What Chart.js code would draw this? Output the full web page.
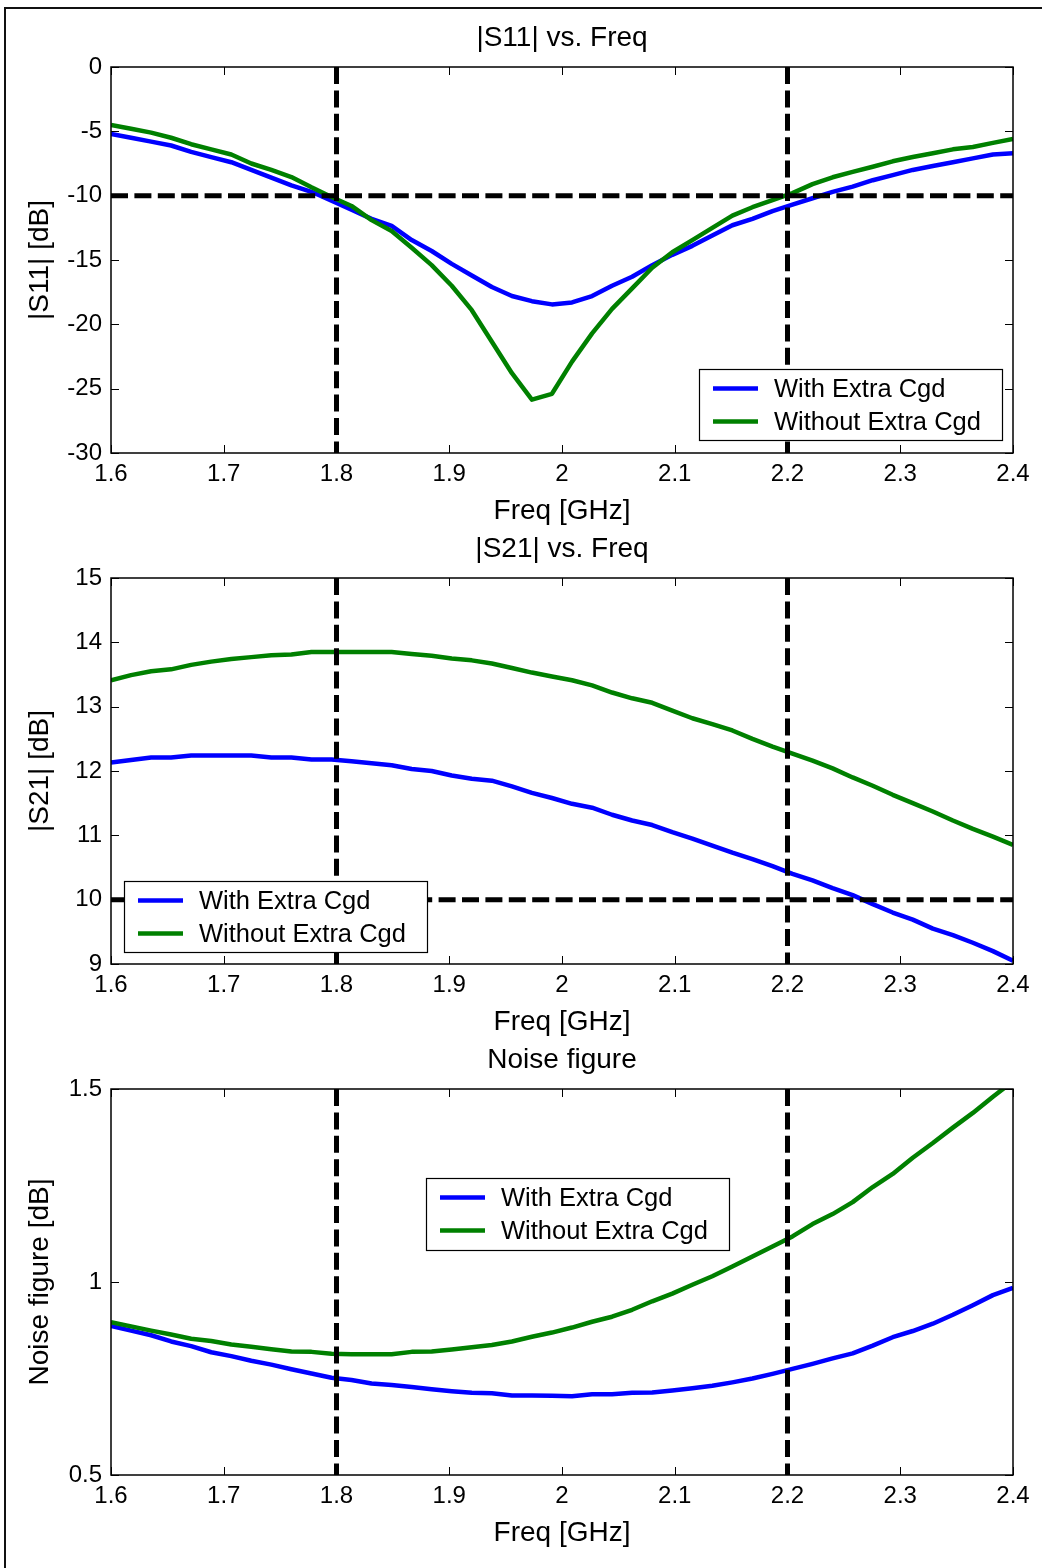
<!DOCTYPE html>
<html>
<head>
<meta charset="utf-8">
<title>|S11|, |S21| and Noise figure vs. Freq</title>
<script src="https://cdn.jsdelivr.net/npm/chart.js@4.4.1/dist/chart.umd.min.js"></script>
<style>
  html, body { margin: 0; padding: 0; background: #fff; overflow: hidden; }
  #page { position: relative; width: 1042px; height: 1568px; overflow: hidden; }
  #frame { position: absolute; left: 4px; top: 7px; width: 1100px; height: 1600px; border: 2px solid #111; }
  canvas { position: absolute; left: 0; }
</style>
</head>
<body>
<div id="page">
  <div id="frame"></div>
  <canvas id="s11" width="1042" height="545" style="top:0px"></canvas>
  <canvas id="s21" width="1042" height="545" style="top:511px"></canvas>
  <canvas id="nf" width="1042" height="545" style="top:1022px"></canvas>
</div>
<script>
/* ---------- data ---------- */
const freqGHz = [1.6, 1.6178, 1.6356, 1.6533, 1.6711, 1.6889, 1.7067, 1.7244, 1.7422, 1.76,
  1.7778, 1.7956, 1.8133, 1.8311, 1.8489, 1.8667, 1.8844, 1.9022, 1.92, 1.9378,
  1.9556, 1.9733, 1.9911, 2.0089, 2.0267, 2.0444, 2.0622, 2.08, 2.0978, 2.1156,
  2.1333, 2.1511, 2.1689, 2.1867, 2.2044, 2.2222, 2.24, 2.2578, 2.2756, 2.2933,
  2.3111, 2.3289, 2.3467, 2.3644, 2.3822, 2.4];

const s11With = [-5.2, -5.5, -5.8, -6.1, -6.6, -7.0, -7.4, -8.0, -8.6, -9.2,
  -9.7, -10.4, -11.1, -11.8, -12.35, -13.45, -14.3, -15.3, -16.2, -17.1,
  -17.8, -18.2, -18.45, -18.3, -17.8, -17.0, -16.3, -15.4, -14.6, -13.9,
  -13.1, -12.3, -11.8, -11.2, -10.7, -10.2, -9.7, -9.3, -8.8, -8.4,
  -8.0, -7.7, -7.4, -7.1, -6.8, -6.7];
const s11Without = [-4.5, -4.8, -5.1, -5.5, -6.0, -6.4, -6.8, -7.5, -8.0, -8.55,
  -9.35, -10.1, -10.8, -11.9, -12.75, -14.05, -15.4, -17.0, -18.9, -21.35,
  -23.8, -25.85, -25.4, -22.9, -20.7, -18.8, -17.2, -15.6, -14.4, -13.45,
  -12.5, -11.55, -10.9, -10.35, -9.8, -9.1, -8.57, -8.15, -7.75, -7.33,
  -7.0, -6.7, -6.4, -6.22, -5.9, -5.6];

const s21With = [12.13, 12.17, 12.21, 12.21, 12.24, 12.24, 12.24, 12.24, 12.21, 12.21,
  12.18, 12.18, 12.15, 12.12, 12.09, 12.03, 12.00, 11.93, 11.88, 11.85,
  11.76, 11.66, 11.58, 11.49, 11.43, 11.32, 11.23, 11.16, 11.05, 10.95,
  10.84, 10.73, 10.63, 10.52, 10.40, 10.30, 10.18, 10.07, 9.93, 9.80,
  9.69, 9.55, 9.45, 9.33, 9.20, 9.05];
const s21Without = [13.41, 13.49, 13.55, 13.58, 13.65, 13.70, 13.74, 13.77, 13.80, 13.81,
  13.85, 13.85, 13.85, 13.85, 13.85, 13.82, 13.79, 13.75, 13.72, 13.67,
  13.60, 13.53, 13.47, 13.41, 13.33, 13.22, 13.13, 13.06, 12.94, 12.82,
  12.73, 12.63, 12.50, 12.38, 12.27, 12.16, 12.04, 11.90, 11.77, 11.63,
  11.50, 11.37, 11.23, 11.10, 10.98, 10.85];

const nfWith = [0.886, 0.874, 0.862, 0.846, 0.834, 0.818, 0.808, 0.796, 0.786, 0.774,
  0.763, 0.752, 0.746, 0.737, 0.733, 0.728, 0.722, 0.717, 0.713, 0.712,
  0.706, 0.706, 0.705, 0.704, 0.709, 0.709, 0.713, 0.714, 0.719, 0.725,
  0.731, 0.740, 0.750, 0.762, 0.775, 0.788, 0.802, 0.815, 0.835, 0.857,
  0.873, 0.892, 0.915, 0.940, 0.966, 0.985];
const nfWithout = [0.896, 0.885, 0.874, 0.864, 0.853, 0.847, 0.838, 0.832, 0.826, 0.820,
  0.819, 0.814, 0.813, 0.813, 0.813, 0.819, 0.820, 0.825, 0.831, 0.837,
  0.846, 0.858, 0.869, 0.882, 0.897, 0.910, 0.928, 0.950, 0.970, 0.993,
  1.015, 1.040, 1.066, 1.092, 1.118, 1.150, 1.176, 1.207, 1.246, 1.280,
  1.322, 1.360, 1.400, 1.438, 1.480, 1.520];

const seriesLabels = ['With Extra Cgd', 'Without Extra Cgd'];
const bandEdges = [1.8, 2.2];     // vertical dashed markers [GHz]
const s11Limit = [-10];            // horizontal dashed marker [dB]
const s21Limit = [10];

const freqTicks = [1.6, 1.7, 1.8, 1.9, 2.0, 2.1, 2.2, 2.3, 2.4];
const s11Ticks = [-30, -25, -20, -15, -10, -5, 0];
const s21Ticks = [9, 10, 11, 12, 13, 14, 15];
const nfTicks = [0.5, 1, 1.5];

/* ---------- helpers ---------- */
Chart.defaults.font.family = '"Liberation Sans", Arial, Helvetica, sans-serif';
Chart.defaults.color = '#000';

const fmt = v => String(Math.round(v * 100) / 100);
const pts = vals => freqGHz.map((f, i) => ({ x: f, y: vals[i] }));

// box, inward ticks on all four sides, and an in-axes legend
const matlabAxes = {
    id: 'matlabAxes',
    afterDraw(chart, args, opts) {
        const { ctx, chartArea: a, scales: { x, y } } = chart;
        ctx.save();
        ctx.strokeStyle = '#000';
        ctx.lineWidth = 1;
        ctx.beginPath();
        x.ticks.forEach(t => {
            const px = Math.round(x.getPixelForValue(t.value)) + 0.5;
            ctx.moveTo(px, a.bottom); ctx.lineTo(px, a.bottom - 8);
            ctx.moveTo(px, a.top); ctx.lineTo(px, a.top + 8);
        });
        y.ticks.forEach(t => {
            const py = Math.round(y.getPixelForValue(t.value)) + 0.5;
            ctx.moveTo(a.left, py); ctx.lineTo(a.left + 8, py);
            ctx.moveTo(a.right, py); ctx.lineTo(a.right - 8, py);
        });
        ctx.stroke();
        ctx.lineWidth = 1.5;
        ctx.strokeRect(a.left, a.top, a.right - a.left, a.bottom - a.top);

        const lg = opts.box;
        if (lg) {
            const items = chart.data.datasets.filter(d => d.label);
            ctx.fillStyle = '#fff';
            ctx.fillRect(lg.left, lg.top, lg.width, lg.height);
            ctx.lineWidth = 1.2;
            ctx.strokeStyle = '#000';
            ctx.strokeRect(lg.left + 0.5, lg.top + 0.5, lg.width, lg.height);
            ctx.font = '25.5px "Liberation Sans", Arial, sans-serif';
            ctx.textBaseline = 'middle';
            ctx.textAlign = 'left';
            items.forEach((d, i) => {
                const cy = lg.top + 19.5 + i * 33;
                ctx.strokeStyle = d.borderColor;
                ctx.lineWidth = 4.5;
                ctx.beginPath();
                ctx.moveTo(lg.left + 14, cy);
                ctx.lineTo(lg.left + 59, cy);
                ctx.stroke();
                ctx.fillStyle = '#000';
                ctx.fillText(d.label, lg.left + 75, cy + 1);
            });
        }
        ctx.restore();
    }
};

function dashed(data) {
    return {
        data, borderColor: '#000', borderWidth: 5, borderDash: [17, 6.4],
        pointRadius: 0, order: 0, clip: 0, borderCapStyle: 'butt'
    };
}

function makePanel(id, p) {
    const yMin = p.yTicks[0], yMax = p.yTicks[p.yTicks.length - 1];
    const datasets = [
        { label: seriesLabels[0], data: pts(p.withVals), borderColor: '#0000ff', borderWidth: 4.5,
          pointRadius: 0, order: 3, clip: 0, borderJoinStyle: 'round' },
        { label: seriesLabels[1], data: pts(p.withoutVals), borderColor: '#008000', borderWidth: 4.5,
          pointRadius: 0, order: 2, clip: 0, borderJoinStyle: 'round' }
    ];
    bandEdges.forEach(f => datasets.push(dashed([{ x: f, y: yMax }, { x: f, y: yMin }])));
    p.limits.forEach(v => datasets.push(dashed([{ x: freqTicks[0], y: v }, { x: freqTicks[freqTicks.length - 1], y: v }])));

    return new Chart(document.getElementById(id), {
        type: 'line',
        data: { datasets },
        options: {
            responsive: false,
            animation: false,
            devicePixelRatio: 1,
            layout: { padding: { top: 0, left: 0, right: 29, bottom: 17 } },
            plugins: {
                legend: { display: false },
                tooltip: { enabled: false },
                title: {
                    display: true, text: p.title, fullSize: false, color: '#000',
                    font: { size: 28, weight: 'normal' },
                    padding: { top: 21, bottom: 12.4 }
                },
                matlabAxes: { box: p.legend }
            },
            scales: {
                x: {
                    type: 'linear', min: freqTicks[0], max: freqTicks[freqTicks.length - 1],
                    afterBuildTicks: s => { s.ticks = freqTicks.map(v => ({ value: v })); },
                    afterFit: s => { s.height = 75; },
                    grid: { display: false, drawTicks: false }, border: { display: false },
                    ticks: { padding: 7, autoSkip: false, maxRotation: 0, font: { size: 24 }, callback: fmt },
                    title: { display: true, text: 'Freq [GHz]', font: { size: 28 }, padding: { top: 0, bottom: 0 } }
                },
                y: {
                    type: 'linear', min: yMin, max: yMax,
                    afterBuildTicks: s => { s.ticks = p.yTicks.map(v => ({ value: v })); },
                    afterFit: s => { s.width = 111; },
                    grid: { display: false, drawTicks: false }, border: { display: false },
                    ticks: { padding: 9, autoSkip: false, font: { size: 24 }, callback: fmt },
                    title: { display: true, text: p.yTitle, font: { size: 28 }, padding: { top: 23, bottom: 0 } }
                }
            }
        },
        plugins: [matlabAxes]
    });
}

makePanel('s11', {
    title: '|S11| vs. Freq', yTitle: '|S11| [dB]', yTicks: s11Ticks,
    withVals: s11With, withoutVals: s11Without, limits: s11Limit,
    legend: { left: 699, top: 369, width: 303, height: 71 }
});
makePanel('s21', {
    title: '|S21| vs. Freq', yTitle: '|S21| [dB]', yTicks: s21Ticks,
    withVals: s21With, withoutVals: s21Without, limits: s21Limit,
    legend: { left: 124, top: 370, width: 303, height: 71 }
});
makePanel('nf', {
    title: 'Noise figure', yTitle: 'Noise figure [dB]', yTicks: nfTicks,
    withVals: nfWith, withoutVals: nfWithout, limits: [],
    legend: { left: 426, top: 156, width: 303, height: 72 }
});
</script>
</body>
</html>
